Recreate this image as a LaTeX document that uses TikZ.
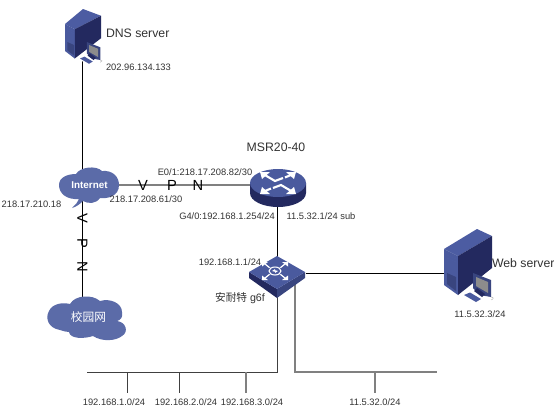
\documentclass[tikz,border=0pt]{standalone}
\usepackage{fontspec}
\setmainfont{Liberation Sans}
\newfontfamily\cjkf{Noto Sans CJK SC}
\definecolor{cloudblue}{HTML}{5B6BA8}
\definecolor{iconblue}{HTML}{4A5A9E}
\definecolor{icontop}{HTML}{4C5CA2}
\definecolor{icondark}{HTML}{23295F}
\definecolor{iconmid}{HTML}{39457F}
\definecolor{txt}{HTML}{333333}
\def\apx{33}\def\fcx{14}\def\ryt{-13}
\tikzset{
  px/.style={x=0.75pt,y=-0.75pt},
  anchorbox/.style={inner sep=0pt,outer sep=0pt,rectangle},
  lab/.style={inner sep=0pt,outer sep=0pt,text=txt,font=\fontsize{7}{8}\selectfont},
  biglab/.style={inner sep=0pt,outer sep=0pt,text=txt,font=\fontsize{9.2}{10}\selectfont},
  vpnlab/.style={inner sep=0pt,outer sep=0pt,text=black,font=\fontsize{11}{12}\selectfont},
  blackline/.style={draw=black,line width=0.6pt},
  greyline/.style={draw=black!50,line width=0.8pt},
  darkline/.style={draw=black!75,line width=0.6pt},
  serverpic/.pic={
    \fill[icontop] (0,0) -- (\apx,-20) -- (48,\ryt) -- (\fcx,7) -- cycle;
    \fill[iconblue] (0,0) -- (\fcx,7) -- (\fcx,46) -- (0,36) -- cycle;
    \fill[icondark] (\fcx,7) -- (48,\ryt) -- (48,19) -- (\fcx,46) -- cycle;
    \fill[iconmid] (3,24) -- (12,28) -- (12,42) -- (3,35) -- cycle;
    \draw[icontop,line width=0.4pt] (3,6) -- (12,10) (3,9) -- (12,13);
    \fill[iconmid] (29,24) -- (47,31) -- (47,48) -- (36,46) -- (29,39) -- cycle;
    \fill[black!45!white] (32,28) -- (44,33) -- (44,44) -- (32,37) -- cycle;
    \fill[icondark] (33,39) -- (41,45) -- (38,48) -- (30,42) -- cycle;
    \fill[white] (18,46) -- (26,42) -- (40,50) -- (32,56) -- cycle;
    \fill[iconblue] (20,46) -- (26,43.5) -- (37,50) -- (32,53) -- cycle;
    \fill[white] (46,52) ellipse (2.5 and 1.8);
    \draw[black!35,line width=0.3pt] (47,48) .. controls (50,48) and (50,50) .. (47,51);
  },
  routerpic/.pic={
    \fill[icondark] (-28,0) -- (-28,10) .. controls (-28,18) and (-15,24) .. (0,24)
      .. controls (15,24) and (28,18) .. (28,10) -- (28,0) -- cycle;
    \fill[iconblue] (0,0) ellipse (28 and 14);
    \foreach \a in {0,180}{
      \begin{scope}[rotate=\a]
      \draw[white,line width=1.6pt] (-14,-8.5) -- (-3,-2) -- (5,-5);
      \draw[white,line width=1.6pt] (14,-8.5) -- (7,-5.5);
      \fill[white] (-18,-11) -- (-8,-11) -- (-16,-4) -- cycle;
      \fill[white] (18,-11) -- (8,-11) -- (16,-4) -- cycle;
      \end{scope}
    }
  },
  switchpic/.pic={
    \fill[icondark] (-28,0) -- (0,17) -- (0,26) -- (-28,6) -- cycle;
    \fill[iconmid] (28,0) -- (0,17) -- (0,26) -- (28,6) -- cycle;
    \fill[iconblue] (-28,0) -- (0,-16) -- (28,0) -- (0,17) -- cycle;
    \begin{scope}[shift={(-2,-1)}]
    \foreach \sx/\sy in {-1/-1,1/-1,-1/1,1/1}{
      \draw[white,line width=0.9pt] (\sx*5,\sy*3) -- (\sx*10,\sy*7);
      \fill[white] (\sx*13,\sy*9) -- (\sx*7,\sy*9) -- (\sx*13,\sy*4.5) -- cycle;
    }
    \fill[iconblue] (0,0) ellipse (7 and 4.8);
    \draw[white,line width=0.8pt] (0,0) ellipse (6 and 4);
    \fill[white] (-3,0) -- (0,-2) -- (0,-0.8) -- (3,0) -- (0,2) -- (0,0.8) -- cycle;
    \end{scope}
  },
  inetcloud/.pic={
    \fill[cloudblue] (72,208) .. controls (76,204) and (78,202) .. (79,199)
      .. controls (66,200) and (59,193) .. (59,185)
      .. controls (59,177) and (68,174) .. (76,174)
      .. controls (80,167) and (96,165) .. (102,171)
      .. controls (113,170) and (119,177) .. (119,185)
      .. controls (119,196) and (108,199) .. (100,198)
      .. controls (96,204) and (88,204) .. (83,201)
      .. controls (80,204) and (76,207) .. (72,208) -- cycle;
  },
  campuscloud/.pic={
    \fill[cloudblue] (60,330) .. controls (48,328) and (45,318) .. (49,311)
      .. controls (52,304) and (62,302) .. (70,304)
      .. controls (75,295) and (92,294) .. (100,301)
      .. controls (110,298) and (122,303) .. (122,312)
      .. controls (123,317) and (121,320) .. (117,321)
      .. controls (126,322) and (129,332) .. (122,336)
      .. controls (116,341) and (102,342) .. (93,336)
      .. controls (84,339) and (70,339) .. (69,332)
      .. controls (66,332) and (63,331) .. (60,330) -- cycle;
  },
}
\begin{document}
\begin{tikzpicture}[px]
\useasboundingbox[fill=white] (0,0) rectangle (554,408);
% anchors
\node[anchorbox,minimum width=30pt,minimum height=30pt] (dns) at (82.5,40) {};
\node[anchorbox,minimum width=36pt,minimum height=24pt] (inet) at (82.5,185) {};
\node[anchorbox,minimum width=36pt,minimum height=24pt] (campus) at (82.5,318) {};
\node[anchorbox,minimum width=42pt,minimum height=24pt] (router) at (277.5,185) {};
\node[anchorbox,minimum width=42pt,minimum height=24pt] (switch) at (277.5,273) {};
\node[anchorbox,minimum width=36pt,minimum height=36pt] (web) at (468,273) {};
\coordinate (busa) at (87,372);
\coordinate (busb) at (277.5,372);
\coordinate (busc) at (295,372);
\coordinate (busd) at (437,372);
\coordinate (swg) at (295,280);
\coordinate (t1) at (127,372); \coordinate (e1) at (127,393);
\coordinate (t2) at (179,372); \coordinate (e2) at (179,393);
\coordinate (t3) at (246,372); \coordinate (e3) at (246,393);
\coordinate (t4) at (375,372); \coordinate (e4) at (375,393);
% connectors
\draw[blackline] (dns) -- (inet);
\draw[blackline] (inet) -- (campus);
\draw[greyline] (inet) -- (router);
\draw[blackline] (router) -- (switch);
\draw[blackline] (switch) -- (web);
\draw[darkline] (switch) -- (busb) -- (busa);
\draw[greyline] (swg) -- (busc) -- (busd);
\draw[darkline] (t1) -- (e1);
\draw[darkline] (t2) -- (e2);
\draw[greyline] (t3) -- (e3);
\draw[greyline,line width=1.1pt] (t4) -- (e4);
% icons
\begin{scope}
\def\apx{24}\def\fcx{13}\def\ryt{-11}
\pic[scale=0.75] at (65,24) {serverpic};
\end{scope}
\pic at (444,249) {serverpic};
\pic at (0,0) {inetcloud};
\pic at (0,0) {campuscloud};
\pic at (278,183) {routerpic};
\pic at (277,272) {switchpic};
% labels
\node[inner sep=0pt,text=white,font=\bfseries\fontsize{7.4}{8}\selectfont] (linet) at (89.5,185) {Internet};
\node[inner sep=0pt,text=white,font=\cjkf\fontsize{8.8}{10}\selectfont] (lcampus) at (88.5,317) {校园网};
\node[biglab,anchor=west] (l1) at (106,33) {DNS server};
\node[lab,anchor=west] (l2) at (106,67) {202.96.134.133};
\node[biglab] (l3) at (276,147) {MSR20-40};
\node[lab] (l4) at (205,172) {E0/1:218.17.208.82/30};
\node[lab] (l5) at (146,199) {218.17.208.61/30};
\node[lab] (l6) at (31.5,204) {218.17.210.18};
\node[lab] (l7) at (227,216) {G4/0:192.168.1.254/24};
\node[lab] (l8) at (321,216) {11.5.32.1/24 sub};
\node[lab] (l9) at (230,262) {192.168.1.1/24};
\node[inner sep=0pt,text=txt,font=\fontsize{8}{10}\selectfont] (l10) at (240,298) {{\cjkf 安耐特} g6f};
\node[biglab,anchor=west] (l11) at (492,263) {Web server};
\node[lab] (l12) at (480,314) {11.5.32.3/24};
\node[lab] (l13) at (114,402) {192.168.1.0/24};
\node[lab] (l14) at (186,402) {192.168.2.0/24};
\node[lab] (l15) at (252,402) {192.168.3.0/24};
\node[lab] (l16) at (375,402) {11.5.32.0/24};
\node[vpnlab] (h1) at (143,185) {V};
\node[vpnlab] (h2) at (172,185) {P};
\node[vpnlab] (h3) at (198,185) {N};
\node[vpnlab,rotate=-90] (v1) at (82.5,218) {V};
\node[vpnlab,rotate=-90] (v2) at (82.5,243) {P};
\node[vpnlab,rotate=-90] (v3) at (82.5,267) {N};
\end{tikzpicture}
\end{document}
